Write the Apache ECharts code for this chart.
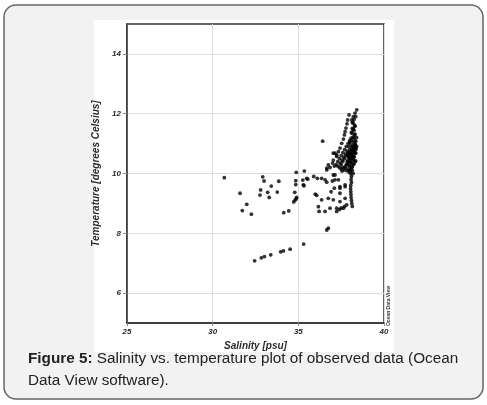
<!DOCTYPE html>
<html><head><meta charset="utf-8">
<script src="https://cdn.jsdelivr.net/npm/echarts@6/dist/echarts.min.js"></script>
<style>html,body{margin:0;padding:0;background:#fff}#c{width:487px;height:405px}</style>
</head><body><div id="c"></div>
<script>
const xTicks = [25, 30, 35, 40];
const yTicks = [6, 8, 10, 12, 14];
const salinity = [
30.68,31.6,31.99,31.73,32.26,32.92,33.0,32.8,32.76,33.21,33.42,33.3,33.77,33.86,34.15,34.44,34.79,34.85,34.85,34.88,34.87,34.81,34.73,34.9,
35.35,35.26,35.33,35.55,35.9,36.11,35.29,35.49,35.99,36.07,36.21,36.36,36.56,36.17,36.36,36.56,36.75,36.66,
32.45,32.84,33.02,33.39,33.97,34.13,34.52,35.31,36.66,36.75,
36.42,
36.66,36.75,36.66,36.85,37.0,37.1,37.04,37.14,37.04,37.24,37.24,37.34,37.43,37.53,37.63,37.69,37.73,37.78,37.84,37.88,37.96,
38.41,38.31,38.21,38.12,38.21,38.15,38.12,38.08,38.0,
37.14,37.04,37.14,37.34,36.99,37.1,36.91,37.43,37.73,37.43,37.04,37.43,37.73,36.85,37.24,37.63,37.82,37.24,37.4,37.5,37.7,37.73,37.43,
38.2,38.1,38.08,38.1,38.06,38.05,38.06,38.07,38.08,38.1,38.12,38.15,
37.2,37.3,37.4,37.5,37.6,37.7,37.8,37.9,37.5,37.6,37.7,37.8,37.9,38.0,38.1,37.7,37.8,37.9,38.0,38.1,38.2,
37.9,38.0,38.1,38.2,38.25,38.0,38.1,38.2,38.3,37.6,37.5,37.4,37.3,38.15,38.2,38.25,38.0,37.95,37.85,37.75,37.65,37.55,37.45,
38.05,38.15,37.95,37.8,38.3,38.25,38.3,38.3,38.25,38.3,
37.85,37.95,38.05,38.15,38.25,38.35,37.9,38.0,38.1,38.2,38.3,38.35,37.95,38.05,38.15,38.25,38.35,
38.0,38.1,38.2,38.3,38.05,38.15,38.25,38.35,38.1,38.2,38.3,38.4,38.15,38.25,38.35,38.2,38.3,38.4,
37.75,37.85,37.65,37.55,37.9,38.02,38.12,38.22,38.32,37.98,38.08,38.18,38.28,38.38
];
const temperature = [
9.86,9.34,8.97,8.76,8.64,9.89,9.75,9.45,9.28,9.37,9.58,9.2,9.38,9.74,8.69,8.75,9.37,9.63,9.76,10.04,9.15,9.11,9.05,9.2,
10.08,9.78,9.59,9.81,9.9,9.84,9.62,9.84,9.31,9.27,8.73,9.84,9.79,8.89,9.12,8.73,9.17,9.71,
7.08,7.18,7.22,7.28,7.38,7.41,7.47,7.64,8.11,8.17,
11.08,
10.18,10.29,10.12,10.2,10.35,10.25,10.45,10.68,10.68,10.57,10.62,10.73,10.85,11.01,11.15,11.29,11.4,11.52,11.66,11.79,11.96,
12.13,12.02,11.9,11.79,11.68,11.51,11.35,11.18,11.05,
9.95,9.95,9.79,9.79,9.75,9.51,9.39,9.51,9.56,9.34,9.12,9.06,9.17,8.84,8.84,8.84,8.95,8.73,8.8,8.85,8.9,9.62,9.56,
10.0,9.9,9.8,9.7,9.6,9.5,9.4,9.3,9.2,9.1,9.0,8.9,
10.3,10.4,10.5,10.6,10.7,10.8,10.9,11.0,10.3,10.4,10.5,10.6,10.7,10.8,10.9,10.2,10.3,10.4,10.5,10.6,10.7,
10.15,10.25,10.35,10.45,10.55,10.1,10.2,10.3,10.4,10.2,10.15,10.2,10.25,10.95,11.05,11.2,11.1,10.9,10.75,10.65,10.55,10.45,10.35,
10.0,10.1,10.05,10.1,10.8,10.9,11.1,11.3,11.45,11.6,
10.42,10.52,10.62,10.72,10.82,10.92,10.58,10.68,10.78,10.88,10.98,11.08,10.28,10.38,10.48,10.58,10.68,
11.02,11.12,11.22,11.32,10.12,10.22,10.32,10.42,11.38,11.48,11.58,11.2,11.7,11.8,11.9,10.5,10.7,10.9,
10.22,10.32,10.12,10.08,10.62,10.68,10.78,10.88,10.98,10.42,10.52,10.62,10.72,10.82
];
const points = salinity.map((s, i) => [s, temperature[i]]);

const chart = echarts.init(document.getElementById('c'), null, {renderer: 'canvas'});
const axisFont = {fontFamily: 'Liberation Sans', fontStyle: 'italic', fontWeight: 'bold', color: '#2a2a2a'};
chart.setOption({
  animation: false,
  backgroundColor: '#ffffff',
  graphic: [
    {type: 'rect', z: -10, shape: {x: 4, y: 5, width: 479, height: 394, r: 12},
     style: {fill: '#f2f2f2', stroke: '#666', lineWidth: 1.5}},
    {type: 'rect', z: -9, shape: {x: 94, y: 20, width: 300, height: 332},
     style: {fill: '#ffffff'}},
    {type: 'text', x: 389, y: 306, rotation: Math.PI / 2, z: 5,
     style: {text: 'Ocean Data View', fontSize: 5, fontFamily: 'Liberation Sans', fontWeight: 'bold', fill: '#333', align: 'center', verticalAlign: 'middle'}},
    {type: 'text', x: 28, y: 359, z: 5,
     style: {text: '{b|Figure 5:} Salinity vs. temperature plot of observed data (Ocean', verticalAlign: 'middle',
       fontSize: 15.3, fontFamily: 'Liberation Sans', fill: '#222',
       rich: {b: {fontWeight: 'bold', fontSize: 15.3, fontFamily: 'Liberation Sans', fill: '#222'}}}},
    {type: 'text', x: 28, y: 381, z: 5,
     style: {text: 'Data View software).', verticalAlign: 'middle', fontSize: 15.3, fontFamily: 'Liberation Sans', fill: '#222'}}
  ],
  grid: {left: 127, top: 24, width: 257, height: 299, show: true, borderColor: '#333', borderWidth: 1.5, backgroundColor: '#fff'},
  xAxis: {
    type: 'value', min: xTicks[0], max: xTicks[xTicks.length - 1], interval: 5,
    name: 'Salinity [psu]', nameLocation: 'middle', nameGap: 12,
    nameTextStyle: Object.assign({fontSize: 10}, axisFont),
    axisLine: {show: true, lineStyle: {color: '#333', width: 1.5}},
    axisTick: {show: true, length: 3, lineStyle: {color: '#888'}},
    axisLabel: Object.assign({fontSize: 8, margin: 5}, axisFont),
    splitLine: {show: true, lineStyle: {color: '#ddd', width: 1}}
  },
  yAxis: {
    type: 'value', min: 5, max: 15,
    name: 'Temperature [degrees Celsius]', nameLocation: 'middle', nameGap: 24,
    nameTextStyle: Object.assign({fontSize: 10}, axisFont),
    axisLine: {show: true, lineStyle: {color: '#333', width: 1.5}},
    axisTick: {show: true, length: 4, customValues: yTicks, lineStyle: {color: '#888'}},
    axisLabel: Object.assign({fontSize: 8, margin: 6, customValues: yTicks}, axisFont),
    splitLine: {show: true, customValues: yTicks, lineStyle: {color: '#ddd', width: 1}}
  },
  series: [{
    type: 'scatter', data: points, symbol: 'circle', symbolSize: 3.8,
    itemStyle: {color: '#000'}, silent: true
  }]
});
</script>
</body></html>
